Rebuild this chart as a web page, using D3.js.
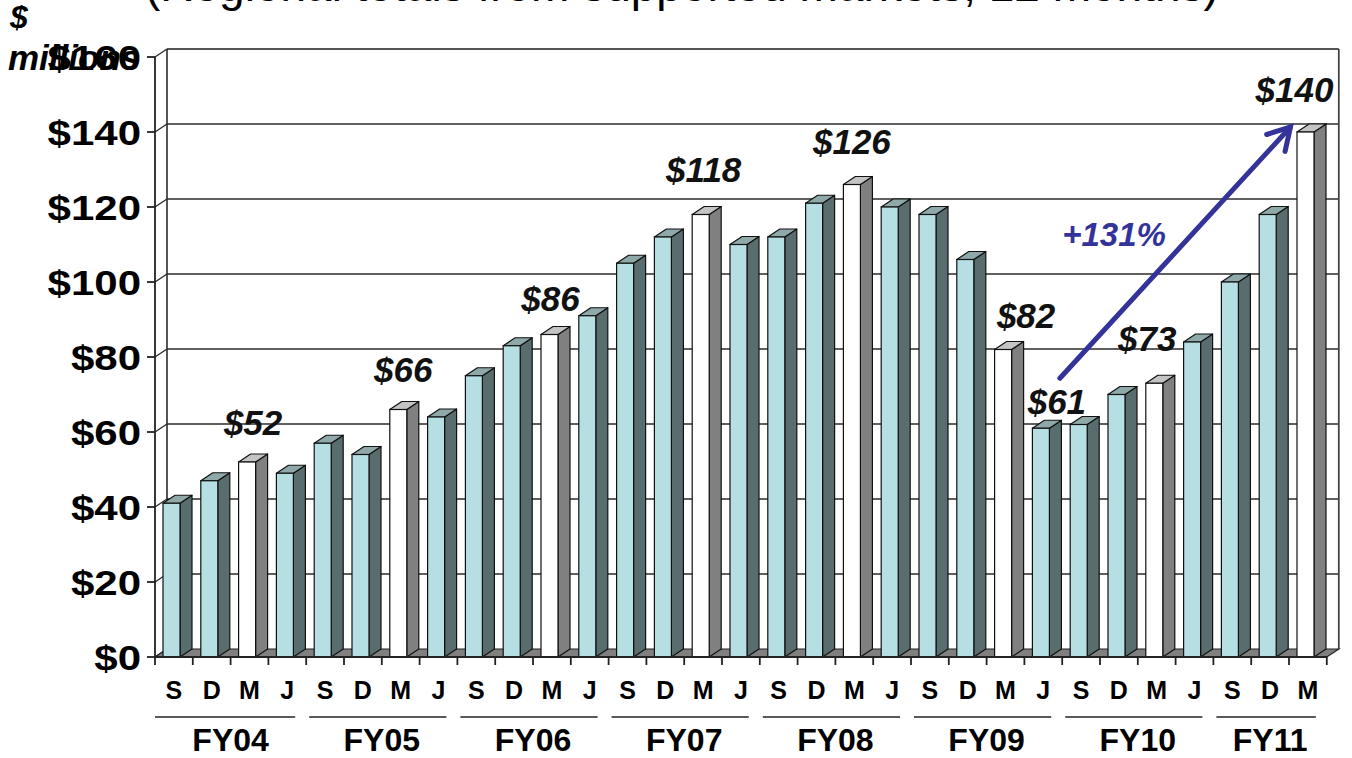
<!DOCTYPE html>
<html>
<head>
<meta charset="utf-8">
<script src="https://cdn.jsdelivr.net/npm/d3@7"></script>
<style>
  body { margin: 0; background: #fff; overflow: hidden; }
  svg { display: block; }
  text { font-family: "Liberation Sans", Arial, Helvetica, sans-serif; }
</style>
</head>
<body>
<svg id="chart" width="1352" height="758"></svg>
<script>
// ---- data ($ millions, quarter-end values) ----
const fiscalYears = ["FY04", "FY05", "FY06", "FY07", "FY08", "FY09", "FY10", "FY11"];
const quarters = ["S", "D", "M", "J"];
const quarterCounts = [4, 4, 4, 4, 4, 4, 4, 3];
const revenue = [
  41, 47, 52, 49,
  57, 54, 66, 64,
  75, 83, 86, 91,
  105, 112, 118, 110,
  112, 121, 126, 120,
  118, 106, 82, 61,
  62, 70, 73, 84,
  100, 118, 140
];
const labelledBars = [2, 6, 10, 14, 18, 22, 23, 26, 30];
const yTicks = [0, 20, 40, 60, 80, 100, 120, 140, 160];
const growthFrom = 23, growthTo = 30;
const growthLabel = "+131%";
const unitLines = ["$", "millions"];
const titleText = "(Regional totals from supported markets, 12 months)";

// ---- layout ----
const W = 1352, H = 758;
const x0 = 155, y0 = 657, yTop = 57;
const step = 37.8;
const DX = 12, DY = 8;           // 3-D depth offset
const barW = 17, barOff = 8;
// label nudges: [dx from bar face centre, gap above bar top]
const labelNudge = {2:[6,27], 6:[5,28], 10:[1,24], 14:[3,33], 18:[0,31], 22:[23,22], 23:[16,14], 26:[-7,32], 30:[-11,30]};

const cats = [];
fiscalYears.forEach((fy, g) => {
  for (let q = 0; q < quarterCounts[g]; q++) cats.push({ fy, g, q: quarters[q], idx: cats.length });
});
cats.forEach((c, i) => c.value = revenue[i]);

const svg = d3.select("#chart");
const x = d3.scaleBand().domain(d3.range(cats.length)).range([x0, x0 + step * cats.length]).padding(0);
const y = d3.scaleLinear().domain([0, 160]).range([y0, yTop]);
const xEnd = x0 + step * cats.length;

// title line running off the top edge
svg.append("text").attr("x", 145).attr("y", 1)
  .attr("font-size", 46).attr("fill", "#000").text(titleText);

// ---- walls ----
const walls = svg.append("g");
// back-wall gridlines + left-wall diagonals
yTicks.forEach(t => {
  const yy = y(t);
  if (t > 0) {
    walls.append("line").attr("x1", x0 + DX).attr("x2", xEnd + DX)
      .attr("y1", yy - DY).attr("y2", yy - DY)
      .attr("stroke", t === 160 ? "#555" : "#2b2b2b").attr("stroke-width", t === 160 ? 2.2 : 1.6);
  }
  walls.append("line").attr("x1", x0).attr("y1", yy).attr("x2", x0 + DX).attr("y2", yy - DY)
    .attr("stroke", "#2b2b2b").attr("stroke-width", 1.4);
});
// back wall verticals
walls.append("line").attr("x1", x0 + DX).attr("x2", x0 + DX).attr("y1", y(160) - DY).attr("y2", y0 - DY)
  .attr("stroke", "#2b2b2b").attr("stroke-width", 1.6);
walls.append("line").attr("x1", xEnd + DX).attr("x2", xEnd + DX).attr("y1", y(160) - DY).attr("y2", y0 - DY)
  .attr("stroke", "#444").attr("stroke-width", 1.8);

// floor
walls.append("polygon")
  .attr("points", [[x0, y0], [xEnd, y0], [xEnd + DX, y0 - DY], [x0 + DX, y0 - DY]].map(p => p.join(",")).join(" "))
  .attr("fill", "#808080").attr("stroke", "#222").attr("stroke-width", 1.2);

// ---- bars ----
const pal = {
  normal: { front: "#b6dfe3", side: "#5a6d6e", top: "#8fa9aa" },
  march:  { front: "#ffffff", side: "#808080", top: "#c4c4c4" }
};
const bars = svg.append("g").selectAll("g").data(cats).join("g");
bars.each(function (d) {
  const g = d3.select(this);
  const c = d.q === "M" ? pal.march : pal.normal;
  const bx = x(d.idx) + barOff, top = y(d.value);
  const pts = a => a.map(p => p.join(",")).join(" ");
  g.append("polygon").attr("points", pts([[bx + barW, top], [bx + barW + DX, top - DY], [bx + barW + DX, y0 - DY], [bx + barW, y0]]))
    .attr("fill", c.side).attr("stroke", "#111").attr("stroke-width", 1.2).attr("stroke-linejoin", "round");
  g.append("polygon").attr("points", pts([[bx, top], [bx + DX, top - DY], [bx + barW + DX, top - DY], [bx + barW, top]]))
    .attr("fill", c.top).attr("stroke", "#111").attr("stroke-width", 1.2).attr("stroke-linejoin", "round");
  g.append("rect").attr("x", bx).attr("y", top).attr("width", barW).attr("height", y0 - top)
    .attr("fill", c.front).attr("stroke", "#111").attr("stroke-width", 1.2);
});

// ---- axes ----
const ax = svg.append("g");
ax.append("line").attr("x1", x0).attr("x2", x0).attr("y1", y(160)).attr("y2", y0 + 1)
  .attr("stroke", "#222").attr("stroke-width", 1.8);
ax.append("line").attr("x1", x0 - 1).attr("x2", xEnd).attr("y1", y0).attr("y2", y0)
  .attr("stroke", "#222").attr("stroke-width", 1.8);
yTicks.forEach(t => {
  ax.append("line").attr("x1", x0 - 8).attr("x2", x0).attr("y1", y(t)).attr("y2", y(t))
    .attr("stroke", "#222").attr("stroke-width", 1.8);
  ax.append("text").attr("transform", `translate(141,${y(t)}) scale(1.2,1)`).attr("dy", "0.36em")
    .attr("text-anchor", "end").attr("font-size", 35).attr("font-weight", "bold").attr("fill", "#000")
    .text("$" + t);
});
d3.range(cats.length + 1).forEach(i => {
  const xx = x0 + step * i;
  ax.append("line").attr("x1", xx).attr("x2", xx).attr("y1", y0).attr("y2", y0 + 8)
    .attr("stroke", "#222").attr("stroke-width", 1.8);
});
cats.forEach(d => {
  ax.append("text").attr("x", x(d.idx) + step / 2).attr("y", 699)
    .attr("text-anchor", "middle").attr("font-size", 25).attr("font-weight", "bold").text(d.q);
});
// fiscal-year groups
let start = 0;
fiscalYears.forEach((fy, g) => {
  const n = quarterCounts[g];
  const gx0 = x0 + step * start, gx1 = x0 + step * (start + n);
  ax.append("line").attr("x1", gx0 + (g === 0 ? 0 : 3)).attr("x2", gx1 - 11).attr("y1", 717).attr("y2", 717)
    .attr("stroke", "#222").attr("stroke-width", 1.6);
  ax.append("text").attr("x", (gx0 + gx1) / 2).attr("y", 751)
    .attr("text-anchor", "middle").attr("font-size", 32).attr("font-weight", "bold").text(fy);
  start += n;
});

// unit caption
svg.append("text").attr("x", 10).attr("y", 28).attr("font-size", 32).attr("font-weight", "bold")
  .attr("font-style", "italic").text(unitLines[0]);
svg.append("text").attr("x", 8).attr("y", 70).attr("font-size", 35).attr("font-weight", "bold")
  .attr("font-style", "italic").text(unitLines[1]);

// ---- value labels ----
labelledBars.forEach(i => {
  const [ndx, gap] = labelNudge[i];
  svg.append("text").attr("x", x(i) + barOff + barW / 2 + ndx).attr("y", y(revenue[i]) - gap)
    .attr("text-anchor", "middle").attr("font-size", 35).attr("font-weight", "bold")
    .attr("font-style", "italic").attr("fill", "#111").text("$" + revenue[i]);
});

// ---- growth arrow ----
const ARROW = "#333399";
const ax1 = x(growthFrom) + barOff + barW / 2 + 19, ay1 = y(revenue[growthFrom]) - 50;
const ax2 = x(growthTo) + barOff + barW / 2 - 15, ay2 = y(revenue[growthTo]) - 5;
svg.append("line").attr("x1", ax1).attr("y1", ay1).attr("x2", ax2).attr("y2", ay2)
  .attr("stroke", ARROW).attr("stroke-width", 5).attr("stroke-linecap", "round");
const ang = Math.atan2(ay1 - ay2, ax1 - ax2);
const armLen = 25, spread = Math.PI / 6;
const head = [ang - spread, ang + spread].map(a => [ax2 + armLen * Math.cos(a), ay2 + armLen * Math.sin(a)]);
svg.append("path")
  .attr("d", `M${head[0][0]},${head[0][1]} L${ax2},${ay2} L${head[1][0]},${head[1][1]}`)
  .attr("fill", "none").attr("stroke", ARROW).attr("stroke-width", 5)
  .attr("stroke-linecap", "round").attr("stroke-linejoin", "miter");
svg.append("text").attr("x", 1114).attr("y", 246).attr("text-anchor", "middle")
  .attr("font-size", 33).attr("font-weight", "bold").attr("font-style", "italic")
  .attr("fill", ARROW).text(growthLabel);
</script>
</body>
</html>
